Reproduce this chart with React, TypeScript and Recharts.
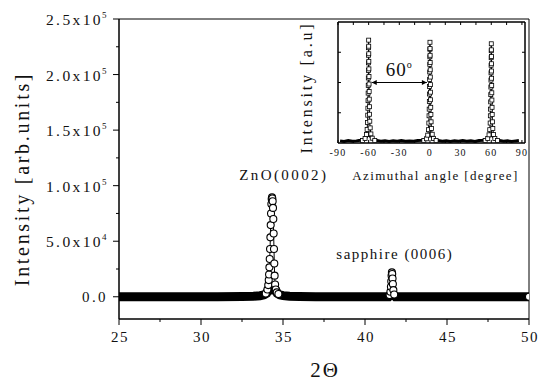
import {
  ComposedChart, Line, XAxis, YAxis, ReferenceArea, ReferenceDot, ReferenceLine, Label,
} from "recharts";

const FONT = '"Liberation Serif", "Times New Roman", serif';
const INK = "#111";

// main 2-theta scan
const BAND_X = [25, 31, 32.5, 33.2, 33.6, 33.85, 34.0, 34.1, 34.55, 34.65, 34.8, 35.0, 35.4, 36.0, 37.0, 41.45, 41.55, 41.75, 41.85, 50];
const BAND_Y = [0, 0, 200, 500, 1000, 1800, 3200, 6000, 6000, 3200, 1800, 1000, 500, 200, 0, 0, 1500, 1500, 0, 0];
const ZNO_X = [33.95, 34.05, 34.1, 34.13, 34.15, 34.17, 34.19, 34.21, 34.23, 34.25, 34.27, 34.29, 34.31, 34.33, 34.35, 34.37, 34.39, 34.41, 34.43, 34.45, 34.47, 34.49, 34.52, 34.56, 34.62, 34.72];
const ZNO_Y = [3000, 6500, 10500, 15000, 20000, 26500, 34000, 43000, 53500, 64500, 75000, 83500, 88000, 89500, 88500, 86000, 80000, 70000, 57000, 43000, 30000, 19000, 11000, 6500, 4000, 2500];
const SAPH_X = [41.5, 41.55, 41.58, 41.6, 41.62, 41.64, 41.66, 41.68, 41.7, 41.73, 41.78];
const SAPH_Y = [1500, 4500, 9000, 14000, 19000, 22000, 20500, 16500, 11500, 6000, 2000];
const END_X = [50];
const END_Y = [0];

const X_TICKS = [25, 27.5, 30, 32.5, 35, 37.5, 40, 42.5, 45, 47.5, 50];
const Y_TICKS = [0, 25000, 50000, 75000, 100000, 125000, 150000, 175000, 200000, 225000, 250000];

// inset: azimuthal phi scan
const IN_BASE_X = [-88, -84, -80, -76, -72, -68, -64, -60, -56, -52, -48, -44, -40, -36, -32, -28, -24, -20, -16, -12, -8, -4, 0, 4, 8, 12, 16, 20, 24, 28, 32, 36, 40, 44, 48, 52, 56, 60, 64, 68, 72, 76, 80, 84, 87];
const IN_BASE_Y = [0.07, 0.05, 0.08, 0.06, 0.07, 0.09, 0.12, 0.3, 0.12, 0.08, 0.06, 0.07, 0.05, 0.07, 0.06, 0.08, 0.06, 0.07, 0.06, 0.08, 0.09, 0.13, 0.3, 0.12, 0.08, 0.06, 0.07, 0.05, 0.07, 0.06, 0.08, 0.06, 0.07, 0.05, 0.08, 0.09, 0.13, 0.3, 0.12, 0.08, 0.06, 0.07, 0.05, 0.07, 0.08];
const PK_L_X = [-66, -63.5, -62.2, -61.5, -61.1, -60.9, -60.75, -60.6, -60.5, -60.4, -60.32, -60.25, -60.18, -60.12, -60.06, -60, -59.94, -59.88, -59.82, -59.76, -59.68, -59.6, -59.5, -59.4, -59.25, -59.1, -58.9, -58.5, -57.8, -56.5, -54];
const PK_L_Y = [0.08, 0.15, 0.28, 0.45, 0.68, 0.92, 1.15, 1.4, 1.65, 1.9, 2.15, 2.4, 2.65, 2.9, 3.15, 3.4, 3.2, 2.95, 2.7, 2.45, 2.2, 1.95, 1.7, 1.45, 1.2, 0.95, 0.72, 0.5, 0.3, 0.16, 0.08];
const PK_C_X = [-6, -3.5, -2.2, -1.5, -1.1, -0.9, -0.75, -0.6, -0.5, -0.4, -0.32, -0.25, -0.18, -0.12, -0.06, 0, 0.06, 0.12, 0.18, 0.24, 0.32, 0.4, 0.5, 0.6, 0.75, 0.9, 1.1, 1.5, 2.2, 3.5, 6];
const PK_C_Y = [0.08, 0.14, 0.26, 0.44, 0.66, 0.9, 1.12, 1.37, 1.62, 1.87, 2.1, 2.35, 2.6, 2.85, 3.1, 3.33, 3.12, 2.9, 2.66, 2.42, 2.18, 1.93, 1.68, 1.43, 1.18, 0.94, 0.7, 0.48, 0.29, 0.15, 0.08];
const PK_R_X = [54, 56.5, 57.8, 58.5, 58.9, 59.1, 59.25, 59.4, 59.5, 59.6, 59.68, 59.75, 59.82, 59.88, 59.94, 60, 60.06, 60.12, 60.18, 60.24, 60.32, 60.4, 60.5, 60.6, 60.75, 60.9, 61.1, 61.5, 62.2, 63.5, 66];
const PK_R_Y = [0.08, 0.15, 0.27, 0.44, 0.66, 0.9, 1.12, 1.36, 1.6, 1.85, 2.08, 2.32, 2.57, 2.82, 3.05, 3.28, 3.08, 2.86, 2.62, 2.38, 2.14, 1.9, 1.66, 1.42, 1.18, 0.94, 0.7, 0.48, 0.28, 0.15, 0.08];

const IN_X_TICKS = [-90, -75, -60, -45, -30, -15, 0, 15, 30, 45, 60, 75, 90];
const IN_Y_TICKS = [1, 2, 3];

const zip = (xs: number[], ys: number[]) => xs.map((x, i) => ({ x, y: ys[i] }));

const band = zip(BAND_X, BAND_Y);
const zno = zip(ZNO_X, ZNO_Y);
const saph = zip(SAPH_X, SAPH_Y);
const endPt = zip(END_X, END_Y);
const inBase = zip(IN_BASE_X, IN_BASE_Y);
const pkL = zip(PK_L_X, PK_L_Y);
const pkC = zip(PK_C_X, PK_C_Y);
const pkR = zip(PK_R_X, PK_R_Y);

const openCircle = { r: 3.5, fill: "#fff", stroke: "#000", strokeWidth: 1.1 };
const squareDot = (p: any) => (
  <rect key={`sq-${p.index}`} x={p.cx - 2} y={p.cy - 2} width={4} height={4} fill="#fff" stroke="#000" strokeWidth={0.8} />
);

function MainYTick({ x, y, payload }: any) {
  const v = payload.value;
  const major = v % 50000 === 0;
  const txt = { fontFamily: FONT, fill: INK, letterSpacing: 2.4 };
  let label: any = null;
  if (major && v === 0) {
    label = <text x={x - 11} y={y + 5} textAnchor="end" fontSize={15} {...txt}>0.0</text>;
  } else if (major) {
    const exp = Math.floor(Math.log10(v));
    const mant = (v / Math.pow(10, exp)).toFixed(1);
    label = (
      <g>
        <text x={x - 16} y={y + 6} textAnchor="end" fontSize={15.5} {...txt}>{`${mant}x10`}</text>
        <text x={x - 17} y={y - 1} textAnchor="start" fontSize={9} {...txt}>{exp}</text>
      </g>
    );
  }
  return (
    <g>
      <line x1={x} x2={x - (major ? 6 : 3)} y1={y} y2={y} stroke="#000" />
      {label}
    </g>
  );
}

function MainXTick({ x, y, payload }: any) {
  const major = payload.value % 5 === 0;
  return (
    <g>
      <line x1={x} x2={x} y1={y} y2={y + (major ? 6 : 3)} stroke="#000" />
      {major && (
        <text x={x + 1} y={y + 23} textAnchor="middle" fontFamily={FONT} fontSize={15} letterSpacing={1.5} fill={INK}>
          {payload.value}
        </text>
      )}
    </g>
  );
}

function InsetBottomTick({ x, y, payload }: any) {
  const major = payload.value % 30 === 0;
  return (
    <g>
      <line x1={x} x2={x} y1={y} y2={y - 3} stroke="#000" />
      {major && (
        <text x={x} y={y + 13} textAnchor="middle" fontFamily={FONT} fontSize={10} letterSpacing={1.2} fill={INK}>
          {payload.value}
        </text>
      )}
    </g>
  );
}

function InsetTopTick({ x, y }: any) {
  return <line x1={x} x2={x} y1={y} y2={y + 3} stroke="#000" />;
}

function InsetLeftTick({ x, y }: any) {
  return <line x1={x} x2={x + 3} y1={y} y2={y} stroke="#000" />;
}

function InsetRightTick({ x, y }: any) {
  return <line x1={x} x2={x - 3} y1={y} y2={y} stroke="#000" />;
}

function textDot(label: string, size: number, spacing: number) {
  return (p: any) => (
    <text x={p.cx} y={p.cy} textAnchor="middle" fontFamily={FONT} fontSize={size} letterSpacing={spacing} fill={INK}>
      {label}
    </text>
  );
}

function arrowShape(p: any) {
  const { x1, y1, x2, y2 } = p;
  return (
    <g>
      <line x1={x1} y1={y1} x2={x2} y2={y2} stroke="#000" strokeWidth={1} />
      <path d={`M${x1},${y1} l5,-2.5 l0,5 z`} fill="#000" />
      <path d={`M${x2},${y2} l-5,-2.5 l0,5 z`} fill="#000" />
    </g>
  );
}

function Inset() {
  return (
    <ComposedChart width={245} height={190} margin={{ top: 21, right: 9, bottom: 0, left: 0 }}>
      <XAxis dataKey="x" type="number" domain={[-90, 93]} allowDataOverflow ticks={IN_X_TICKS} interval={0}
        tickSize={0} tickMargin={0} tickLine={false} tick={<InsetBottomTick />} axisLine={{ stroke: "#000" }} height={47}>
        <Label content={(p: any) => (
          <text x={p.viewBox.x + p.viewBox.width / 2 + 4} y={p.viewBox.y + 37} textAnchor="middle"
            fontFamily={FONT} fontSize={13} letterSpacing={1.4} fill={INK}>Azimuthal angle [degree]</text>
        )} />
      </XAxis>
      <XAxis xAxisId="top" orientation="top" dataKey="x" type="number" domain={[-90, 93]} allowDataOverflow
        ticks={IN_X_TICKS} interval={0} tickSize={0} tickMargin={0} tickLine={false} tick={<InsetTopTick />}
        axisLine={{ stroke: "#000" }} height={1} />
      <YAxis type="number" domain={[0, 4]} allowDataOverflow ticks={IN_Y_TICKS} interval={0} width={48}
        tickSize={0} tickMargin={0} tickLine={false} tick={<InsetLeftTick />} axisLine={{ stroke: "#000" }}>
        <Label content={(p: any) => (
          <text transform={`translate(${p.viewBox.x + 22},${p.viewBox.y + p.viewBox.height / 2 + 5}) rotate(-90)`}
            textAnchor="middle" fontFamily={FONT} fontSize={16} letterSpacing={2.8} fill={INK}>Intensity [a.u]</text>
        )} />
      </YAxis>
      <YAxis yAxisId="right" orientation="right" type="number" domain={[0, 4]} allowDataOverflow ticks={IN_Y_TICKS}
        interval={0} width={1} tickSize={0} tickMargin={0} tickLine={false} tick={<InsetRightTick />}
        axisLine={{ stroke: "#000" }} />
      <ReferenceArea x1={-90} x2={93} y1={0} y2={4} fill="none" stroke="#000" strokeWidth={1} />
      <Line data={inBase} dataKey="y" type="linear" stroke="#000" strokeWidth={3} dot={false} isAnimationActive={false} />
      <Line data={pkL} dataKey="y" type="linear" stroke="#000" strokeWidth={1} dot={squareDot} isAnimationActive={false} />
      <Line data={pkC} dataKey="y" type="linear" stroke="#000" strokeWidth={1} dot={squareDot} isAnimationActive={false} />
      <Line data={pkR} dataKey="y" type="linear" stroke="#000" strokeWidth={1} dot={squareDot} isAnimationActive={false} />
      <ReferenceLine segment={[{ x: -57, y: 2 }, { x: -3, y: 2 }]} shape={arrowShape} />
      <ReferenceDot x={-30} y={2.2} r={0} shape={(p: any) => (
        <text x={p.cx} y={p.cy} textAnchor="middle" fontFamily={FONT} fontSize={19} letterSpacing={1} fill={INK}>
          60<tspan dy={-8} fontSize={10}>o</tspan>
        </text>
      )} />
    </ComposedChart>
  );
}

export default function App() {
  return (
    <div style={{ position: "absolute", left: 0, top: 0, width: 541, height: 385, background: "#fff" }}>
      <ComposedChart width={541} height={385} margin={{ top: 19, right: 12, bottom: 0, left: 0 }}>
        <XAxis dataKey="x" type="number" domain={[25, 50]} allowDataOverflow ticks={X_TICKS} interval={0}
          tickSize={0} tickMargin={0} tickLine={false} tick={<MainXTick />} axisLine={{ stroke: "#000" }} height={66}>
          <Label content={(p: any) => (
            <text x={p.viewBox.x + p.viewBox.width / 2 + 1} y={p.viewBox.y + 58} textAnchor="middle"
              fontFamily={FONT} fontSize={21} letterSpacing={2} fill={INK}>2Θ</text>
          )} />
        </XAxis>
        <YAxis type="number" domain={[-20000, 250000]} allowDataOverflow ticks={Y_TICKS} interval={0} width={119}
          tickSize={0} tickMargin={0} tickLine={false} tick={<MainYTick />} axisLine={{ stroke: "#000" }}>
          <Label content={(p: any) => (
            <text transform={`translate(${p.viewBox.x + 29},${p.viewBox.y + p.viewBox.height / 2 + 10}) rotate(-90)`}
              textAnchor="middle" fontFamily={FONT} fontSize={20} letterSpacing={2.7} fill={INK}>Intensity [arb.units]</text>
          )} />
        </YAxis>
        <ReferenceArea x1={25} x2={50} y1={-20000} y2={250000} fill="none" stroke="#000" strokeWidth={1} />
        <Line data={band} dataKey="y" type="linear" stroke="#000" strokeWidth={9} dot={false} isAnimationActive={false} />
        <Line data={zno} dataKey="y" type="linear" stroke="#000" strokeWidth={1} dot={openCircle} isAnimationActive={false} />
        <Line data={saph} dataKey="y" type="linear" stroke="#000" strokeWidth={1} dot={openCircle} isAnimationActive={false} />
        <Line data={endPt} dataKey="y" type="linear" stroke="#000" dot={openCircle} isAnimationActive={false} />
        <ReferenceDot x={35.05} y={105000} r={0} shape={textDot("ZnO(0002)", 15, 2.4)} />
        <ReferenceDot x={41.82} y={34200} r={0} shape={textDot("sapphire (0006)", 15, 1.5)} />
      </ComposedChart>
      <div style={{ position: "absolute", left: 290, top: 0 }}>
        <Inset />
      </div>
    </div>
  );
}
